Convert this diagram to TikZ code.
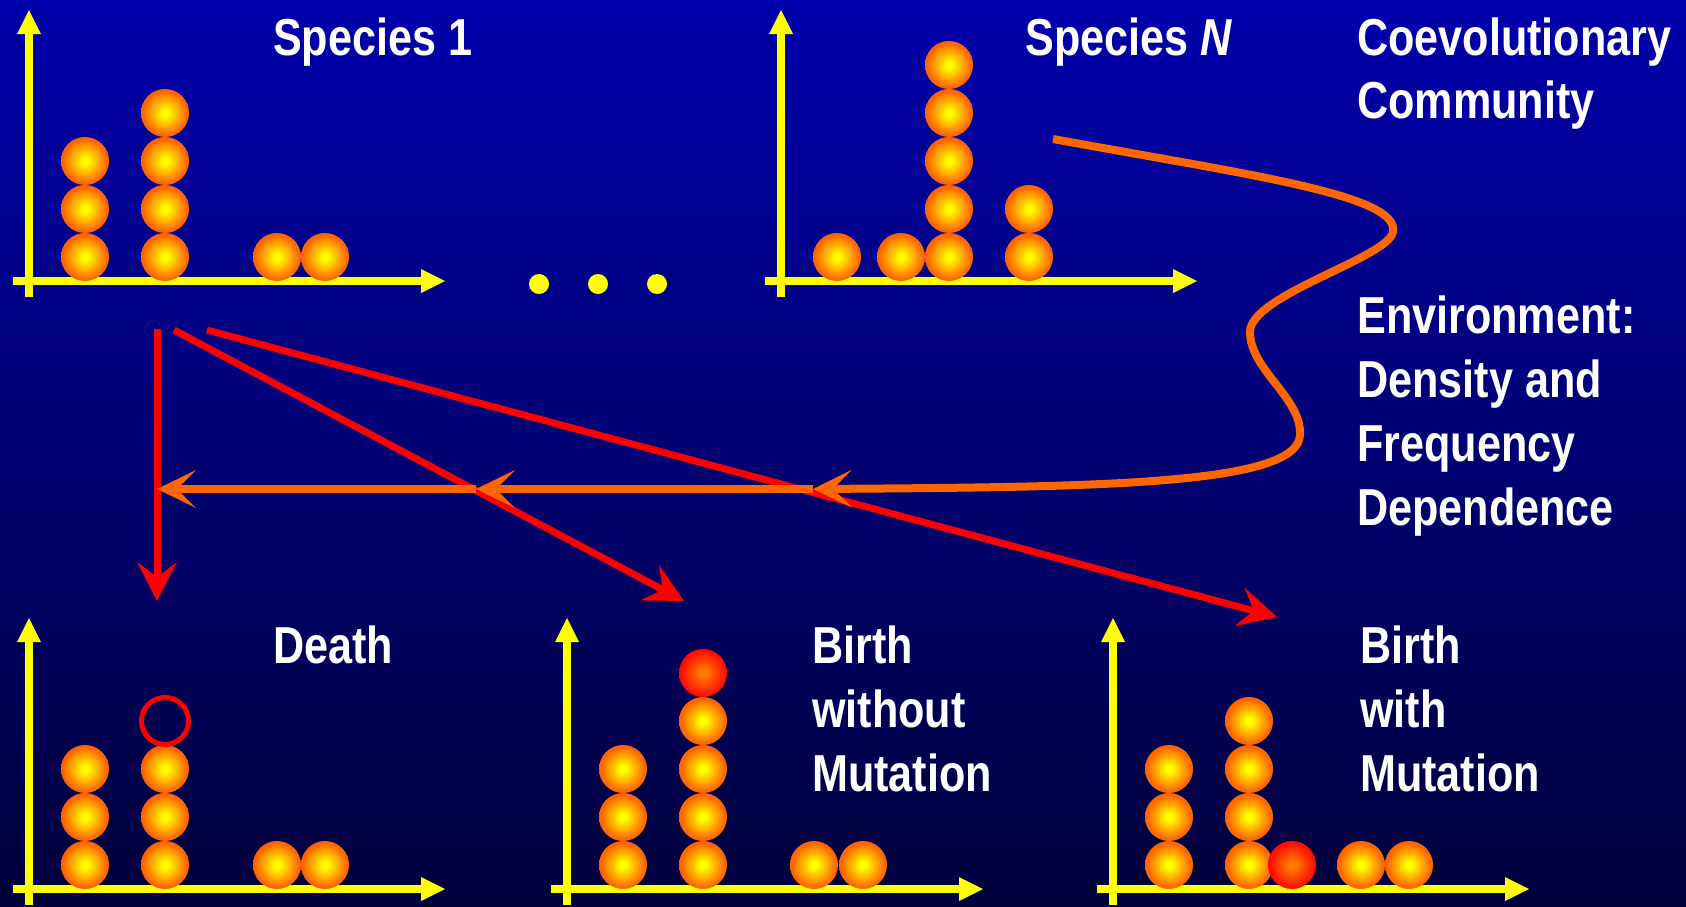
\documentclass[tikz,border=0pt]{standalone}
\usepackage{fontspec}
\setmainfont{Liberation Sans}[FakeStretch=0.83]
\usetikzlibrary{arrows.meta}
\definecolor{bgtop}{RGB}{0,0,172}
\definecolor{bgbot}{RGB}{0,0,58}
\definecolor{axisyellow}{RGB}{255,255,0}
\definecolor{ballor}{RGB}{255,100,0}
\definecolor{ballyel}{RGB}{255,255,0}
\definecolor{mutin}{RGB}{255,120,0}
\definecolor{mutout}{RGB}{255,10,0}
\definecolor{arrowred}{RGB}{255,0,0}
\definecolor{envorange}{RGB}{255,102,0}
\pgfdeclareradialshading{ballshade}{\pgfpoint{0bp}{0bp}}{color(0bp)=(ballyel); color(3bp)=(ballyel); color(23bp)=(ballor); color(50bp)=(ballor)}
\pgfdeclareradialshading{mutshade}{\pgfpoint{0bp}{0bp}}{color(0bp)=(mutin); color(4bp)=(mutin); color(24bp)=(mutout); color(50bp)=(mutout)}
\newcommand\panelaxes{%
  \draw[axisline] (13,281) -- (445,281);
  \draw[axisline] (29,297) -- (29,10);}
\newcommand\ball[2]{\shade[shading=ballshade] (#1,{257-48*(#2)}) circle[radius=24pt];}
\newcommand\mutball[2]{\shade[shading=mutshade] (#1,{257-48*(#2)}) circle[radius=24pt];}
\tikzset{
  axisline/.style={draw=axisyellow, line width=8pt, -{Triangle[length=24pt,width=24pt,line width=0pt]}},
  redarrow/.style={draw=arrowred, line width=7pt, -{Stealth[length=39pt,width=40pt,inset=15pt,line width=0pt]}},
  orangearrow/.style={draw=envorange, line width=8pt, -{Stealth[length=39pt,width=38pt,inset=19pt,line width=0pt]}},
  lbl/.style={anchor=base west, inner sep=0pt, text=white, font=\fontsize{52pt}{64pt}\selectfont\bfseries},
  dotmark/.style={fill=axisyellow, circle, inner sep=0pt, minimum size=20pt},
}
\begin{document}
\begin{tikzpicture}[x=1pt,y=-1pt]
\useasboundingbox (0,0) rectangle (1686,906);
\shade[top color=bgtop, bottom color=bgbot] (0,0) rectangle (1686,906);

% Species 1
\begin{scope}
  \panelaxes
  \foreach \r in {0,1,2} {\ball{85}{\r}}
  \foreach \r in {0,1,2,3} {\ball{165}{\r}}
  \ball{277}{0}\ball{325}{0}
\end{scope}
% Species N
\begin{scope}[shift={(752,0)}]
  \panelaxes
  \ball{85}{0}\ball{149}{0}
  \foreach \r in {0,1,2,3,4} {\ball{197}{\r}}
  \foreach \r in {0,1} {\ball{277}{\r}}
\end{scope}
% Death
\begin{scope}[shift={(0,608)}]
  \panelaxes
  \foreach \r in {0,1,2} {\ball{85}{\r}}
  \foreach \r in {0,1,2} {\ball{165}{\r}}
  \draw[arrowred, line width=5pt] (165,113) circle[radius=23.5pt];
  \ball{277}{0}\ball{325}{0}
\end{scope}
% Birth without mutation
\begin{scope}[shift={(538,608)}]
  \panelaxes
  \foreach \r in {0,1,2} {\ball{85}{\r}}
  \foreach \r in {0,1,2,3} {\ball{165}{\r}}
  \mutball{165}{4}
  \ball{276}{0}\ball{325}{0}
\end{scope}
% Birth with mutation
\begin{scope}[shift={(1084,608)}]
  \panelaxes
  \foreach \r in {0,1,2} {\ball{85}{\r}}
  \foreach \r in {0,1,2,3} {\ball{165}{\r}}
  \mutball{208}{0}
  \ball{277}{0}\ball{325}{0}
\end{scope}

% dots
\node[dotmark] (dotA) at (539,284) {};
\node[dotmark] (dotB) at (598,284) {};
\node[dotmark] (dotC) at (657,284) {};

% labels
\node[lbl] (sp1) at (273,55) {Species 1};
\node[lbl] (spN) at (1025,55) {Species \textit{N}};
\node[lbl] (coev1) at (1357,55) {Coevolutionary};
\node[lbl] (coev2) at (1357,118) {Community};
\node[lbl] (env1) at (1357,333) {Environment:};
\node[lbl] (env2) at (1357,397) {Density and};
\node[lbl] (env3) at (1357,461) {Frequency};
\node[lbl] (env4) at (1357,525) {Dependence};
\node[lbl] (death) at (273,663) {Death};
\node[lbl] (bwo1) at (812,663) {Birth};
\node[lbl] (bwo2) at (812,727) {without};
\node[lbl] (bwo3) at (812,791) {Mutation};
\node[lbl] (bw1) at (1360,663) {Birth};
\node[lbl] (bw2) at (1360,727) {with};
\node[lbl] (bw3) at (1360,791) {Mutation};

% red arrows
\coordinate (dS) at (157,329);
\coordinate (dE) at (157,601);
\coordinate (bS) at (174,330);
\coordinate (bE) at (684,601);
\coordinate (mS) at (207,330);
\coordinate (mE) at (1277,617);
\draw[redarrow] (dS) -- (dE);
\draw[redarrow] (bS) -- (bE);
\draw[redarrow] (mS) -- (mE);

% environment feedback
\coordinate (envS) at (1053,139);
\coordinate (o3) at (813,489);
\coordinate (o2) at (476,489);
\coordinate (o1) at (157,489);
\draw[orangearrow] (envS) .. controls (1250,175) and (1400,195) .. (1393,232)
  .. controls (1388,258) and (1250,295) .. (1250,332)
  .. controls (1250,370) and (1302,398) .. (1300,435)
  .. controls (1298,485) and (1100,487) .. (o3);
\draw[orangearrow] (o3) -- (o2);
\draw[orangearrow] (o2) -- (o1);
\end{tikzpicture}
\end{document}
